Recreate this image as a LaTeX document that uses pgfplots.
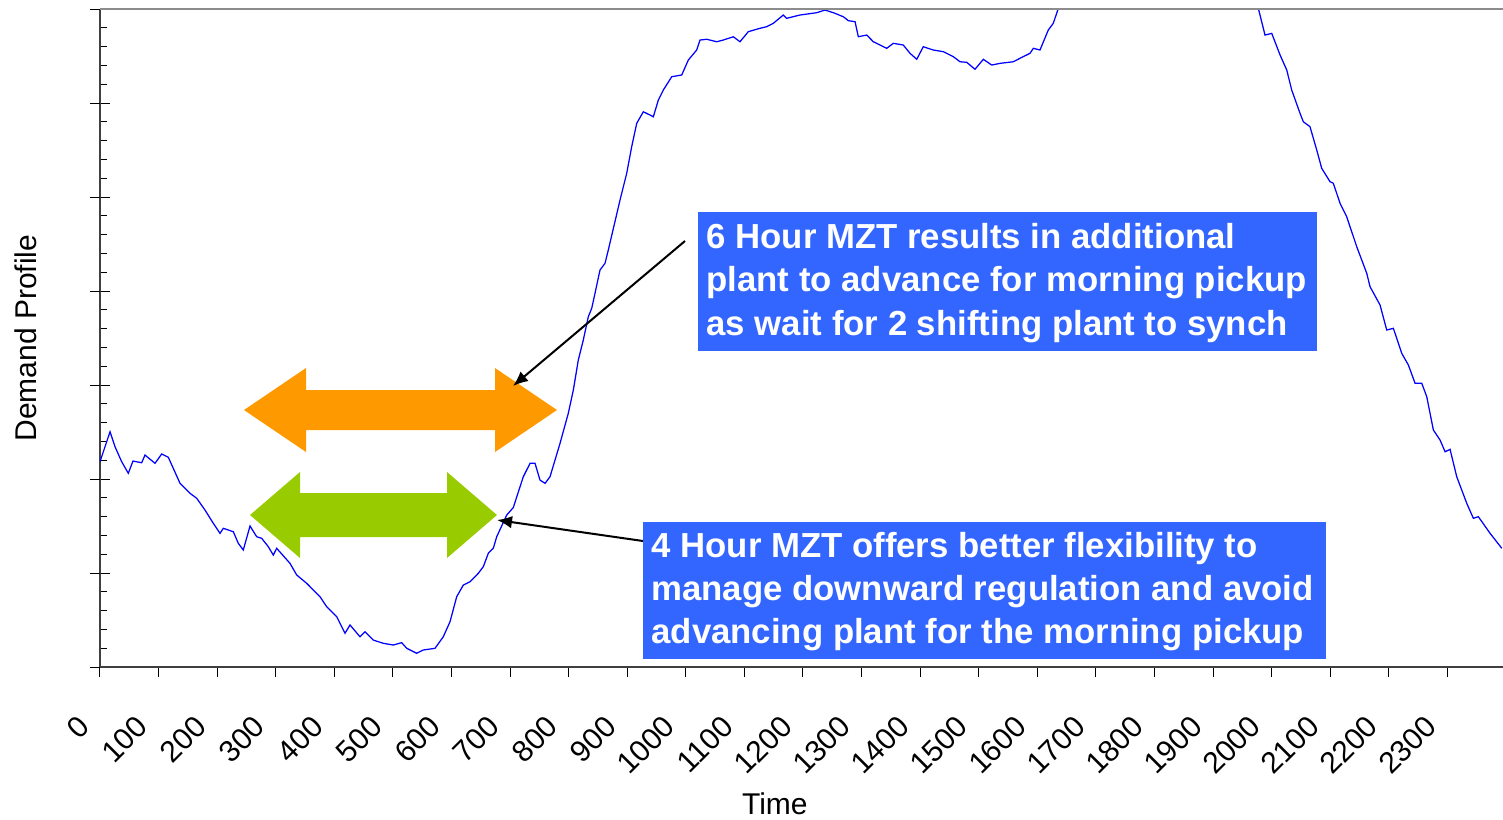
\documentclass[border=0pt]{standalone}
\usepackage{fontspec}
\setmainfont{Liberation Sans}
\usepackage{pgfplots}
\pgfplotsset{compat=1.18}
\usetikzlibrary{arrows.meta}
\definecolor{axisgrey}{HTML}{404040}
\definecolor{topgrey}{HTML}{8C8C8C}
\definecolor{boxblue}{HTML}{3366FF}
\definecolor{arrorange}{HTML}{FF9900}
\definecolor{arrgreen}{HTML}{99CC00}
\newcommand\boxfont{\fontsize{13.9}{17.4}\selectfont\bfseries}

\begin{document}
\begin{tikzpicture}
\begin{axis}[
  at={(0,0)}, anchor=south west,
  scale only axis, width=561.2pt, height=263.2pt,
  xmin=0, xmax=2395, ymin=0, ymax=7,
  axis lines*=left,
  axis line style={line width=0.8pt, color=axisgrey},
  xtick={0,100,...,2300},
  xtick align=outside,
  ytick={0,...,7}, yticklabels={},
  ytick align=inside,
  minor y tick num=4,
  major tick length=4pt, minor tick length=2.9pt,
  tick style={black, line width=0.4pt},
  extra y ticks={0,...,7}, extra y tick labels={},
  extra y tick style={tick align=outside},
  /pgf/number format/assume math mode=true,
  /pgf/number format/1000 sep={},
  xticklabel style={xshift=-6.4pt, yshift=-17.6pt, rotate=45, anchor=east,
    inner sep=0pt, font=\fontsize{12}{14}\selectfont},
  xlabel={Time}, ylabel={Demand Profile},
  xlabel style={at={(axis description cs:0.481,-0.208)}, anchor=center,
    font=\fontsize{12}{14}\selectfont},
  ylabel style={at={(axis description cs:-0.0527,0.5)}, anchor=center,
    font=\fontsize{12}{14}\selectfont},
]
\addplot[color=blue, line width=0.5pt] table {
0 2.184
17.1 2.503
25.6 2.344
37.0 2.184
48.3 2.061
56.3 2.191
71.2 2.173
76.8 2.255
93.9 2.167
105.3 2.266
116.6 2.231
125.1 2.114
136.6 1.954
153.6 1.848
165.1 1.795
179.2 1.670
193.4 1.529
204.9 1.422
210.5 1.476
227.6 1.439
236.1 1.316
244.6 1.245
256.1 1.500
267.5 1.386
276.0 1.369
287.3 1.280
295.8 1.191
301.6 1.263
324.3 1.103
335.8 0.979
352.9 0.890
375.6 0.748
387.0 0.641
404.1 0.535
418.2 0.359
426.8 0.447
443.8 0.322
452.4 0.376
466.5 0.287
483.6 0.252
500.7 0.234
515.0 0.259
523.6 0.199
540.6 0.146
551.9 0.181
571.9 0.199
586.0 0.322
597.5 0.482
608.9 0.748
620.2 0.872
631.6 0.907
645.8 0.997
654.3 1.067
662.9 1.210
671.4 1.263
677.2 1.386
694.3 1.617
705.6 1.697
717.0 1.918
722.6 2.024
734.1 2.167
742.6 2.167
751.1 1.989
759.7 1.954
768.2 2.024
785.3 2.380
799.4 2.699
808.0 2.947
816.5 3.266
825.0 3.479
833.6 3.727
839.4 3.816
845.0 3.976
853.5 4.223
862.1 4.295
867.7 4.436
887.7 4.968
899.1 5.252
907.6 5.535
916.2 5.784
927.5 5.907
938.9 5.872
944.6 5.854
953.1 6.032
961.6 6.138
976.0 6.280
993.0 6.298
1004.3 6.457
1018.6 6.564
1024.2 6.670
1035.7 6.678
1052.8 6.652
1064.0 6.670
1081.1 6.705
1092.5 6.652
1106.7 6.759
1126.7 6.795
1138.1 6.812
1149.4 6.848
1166.4 6.936
1172.1 6.901
1194.9 6.936
1223.4 6.961
1237.6 6.989
1251.8 6.961
1268.9 6.918
1277.4 6.876
1288.9 6.865
1294.5 6.705
1308.8 6.723
1320.1 6.652
1343.0 6.582
1354.2 6.635
1371.2 6.617
1382.7 6.529
1394.2 6.465
1405.4 6.599
1422.4 6.564
1439.6 6.546
1456.6 6.493
1468.1 6.439
1479.5 6.433
1493.7 6.359
1507.9 6.465
1522.2 6.404
1536.4 6.422
1559.1 6.439
1570.5 6.476
1587.6 6.529
1593.2 6.582
1604.6 6.564
1618.8 6.777
1627.3 6.848
1635.9 7.007
1664 7.30
1741 7.60
1810 7.75
1878 7.70
1946 7.40
1977.3 7.007
1988.7 6.723
2000.2 6.741
2014.4 6.511
2025.8 6.351
2034.3 6.138
2048.5 5.890
2054.1 5.801
2065.5 5.748
2077.0 5.500
2085.5 5.305
2099.7 5.163
2105.3 5.146
2116.8 4.933
2128.2 4.790
2145.3 4.471
2162.4 4.188
2168.0 4.046
2185.1 3.851
2196.5 3.585
2207.8 3.603
2222.1 3.337
2233.4 3.213
2244.9 3.018
2256.3 3.018
2264.8 2.876
2276.1 2.521
2287.5 2.415
2296.1 2.290
2304.6 2.316
2316.0 2.024
2333.1 1.741
2344.4 1.582
2352.9 1.599
2372.9 1.422
2392.9 1.263
};
\end{axis}
% top frame line
\draw[topgrey, line width=0.8pt] (0,263.2pt) -- (561.2pt,263.2pt);
% annotations, in reference pixel units
\begin{scope}[x=0.4pt, y=-0.4pt, shift={(-100,-667)}]
  \fill[arrorange] (244,410) -- (306,368) -- (306,390) -- (495,390) -- (495,368)
    -- (557,410) -- (495,452) -- (495,430) -- (306,430) -- (306,452) -- cycle;
  \fill[arrgreen] (250,515) -- (300,472) -- (300,493) -- (447,493) -- (447,472)
    -- (497,515) -- (447,558) -- (447,537) -- (300,537) -- (300,558) -- cycle;
  \draw[line width=0.8pt, -{Latex[length=6pt,width=5pt]}] (685,241) -- (513,386);
  \draw[line width=0.8pt, -{Latex[length=6pt,width=5pt]}] (643,541) -- (497,520);
  \fill[boxblue] (698,212) rectangle (1317,351);
  \fill[boxblue] (643,522) rectangle (1326,659);
  \begin{scope}[every node/.style={anchor=base west, inner sep=0pt, text=white, font=\boxfont}]
    \node at (706,248) {6 Hour MZT results in additional};
    \node at (706,291.5) {plant to advance for morning pickup};
    \node at (706,335) {as wait for 2 shifting plant to synch};
    \node at (651,557) {4 Hour MZT offers better flexibility to};
    \node at (651,600) {manage downward regulation and avoid};
    \node at (651,643) {advancing plant for the morning pickup};
  \end{scope}
\end{scope}
\pgfresetboundingbox
\path[use as bounding box] (-40pt,-60.8pt) rectangle (561.2pt,266.8pt);
\end{tikzpicture}
\end{document}
